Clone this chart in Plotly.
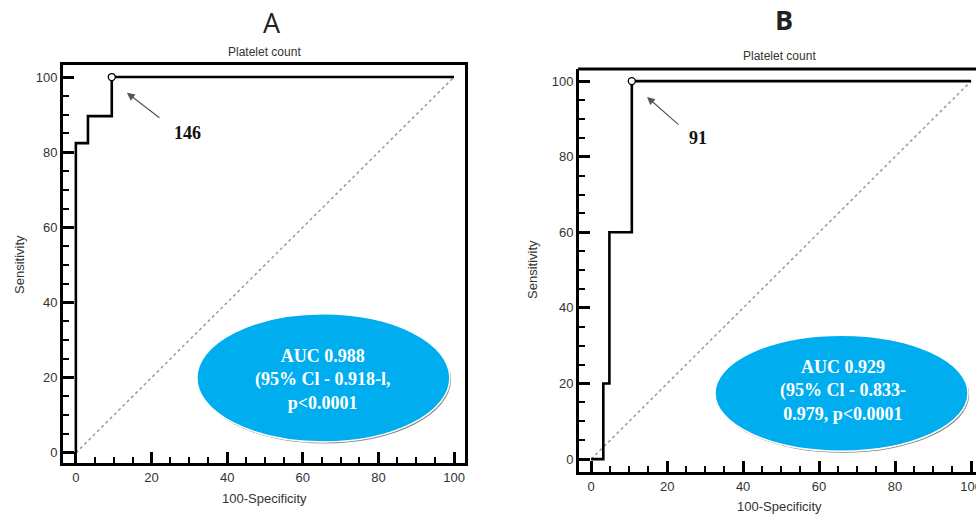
import plotly.graph_objects as go

W, H = 976, 515

# ROC step curves (100-Specificity, Sensitivity)
roc_a_x = [0, 0, 3.2, 3.2, 9.5, 9.5, 100]
roc_a_y = [0, 82.4, 82.4, 89.6, 89.6, 100, 100]
roc_b_x = [0, 3.2, 3.2, 4.8, 4.8, 10.7, 10.7, 100]
roc_b_y = [0, 0, 20, 20, 60, 60, 100, 100]

# optimal cut-off points and their labels
cut_a = (9.5, 100)
cut_b = (10.7, 100)
cut_label_a = "146"
cut_label_b = "91"

auc_text_a = ["AUC 0.988", "(95% Cl - 0.918-l,", "p<0.0001"]
auc_text_b = ["AUC 0.929", "(95% Cl - 0.833-", "0.979, p<0.0001"]

chart_title = "Platelet count"
x_title = "100-Specificity"
y_title = "Sensitivity"
tick_vals = [0, 20, 40, 60, 80, 100]


def px_x(p):
    return p / W


def px_y(p):
    return 1 - p / H


fig = go.Figure()

panels = [
    dict(xa="x", ya="y", xs=roc_a_x, ys=roc_a_y, cut=cut_a, lab=cut_label_a, auc=auc_text_a),
    dict(xa="x2", ya="y2", xs=roc_b_x, ys=roc_b_y, cut=cut_b, lab=cut_label_b, auc=auc_text_b),
]

for p in panels:
    # reference diagonal
    fig.add_trace(go.Scatter(x=[0, 100], y=[0, 100], mode="lines",
                             line=dict(color="#9a9a9a", width=1.5, dash="dot"),
                             xaxis=p["xa"], yaxis=p["ya"], hoverinfo="skip"))
    fig.add_trace(go.Scatter(x=p["xs"], y=p["ys"], mode="lines",
                             line=dict(color="black", width=2.6),
                             xaxis=p["xa"], yaxis=p["ya"]))
    fig.add_trace(go.Scatter(x=[p["cut"][0]], y=[p["cut"][1]], mode="markers",
                             marker=dict(symbol="circle", size=7, color="white",
                                         line=dict(color="black", width=1.3)),
                             xaxis=p["xa"], yaxis=p["ya"]))

axis_common = dict(
    showgrid=False, zeroline=False, showline=True, linecolor="black", linewidth=3,
    ticks="inside", ticklen=11, tickwidth=2.5, tickcolor="black",
    tickvals=tick_vals, tickfont=dict(family="Liberation Sans", size=13, color="#333"),
    ticklabeloverflow="allow", automargin=False,
    minor=dict(dtick=5, ticks="inside", ticklen=6, tickwidth=2, tickcolor="black"),
)

fig.update_layout(
    width=W, height=H, margin=dict(l=0, r=0, t=0, b=0, autoexpand=False),
    plot_bgcolor="white", paper_bgcolor="white", showlegend=False,
    xaxis=dict(axis_common, domain=[px_x(63), px_x(465)], range=[-3.4, 102.9],
               mirror=True, anchor="y"),
    yaxis=dict(axis_common, domain=[px_y(463), px_y(65)], range=[-2.7, 103.2],
               mirror=True, anchor="x"),
    xaxis2=dict(axis_common, domain=[px_x(579), 1.0], range=[-3.2, 101.3],
                mirror=False, anchor="y2"),
    yaxis2=dict(axis_common, domain=[px_y(472), px_y(69)], range=[-3.4, 103.2],
                mirror=False, anchor="x2"),
)

shapes = []
# top frame line for panel B (right side runs off the canvas)
shapes.append(dict(type="line", xref="paper", yref="paper", x0=px_x(578), x1=1.0,
                   y0=px_y(69), y1=px_y(69), line=dict(color="black", width=3)))

# AUC ellipses (shadow + fill)
ell = [
    ("x", "y", 32.0, 98.9, 2.9, 37.0, 3.78, 3.76),
    ("x2", "y2", 32.6, 99.2, 2.1, 32.8, 3.8, 3.78),
]
for xr, yr, x0, x1, y0, y1, sx, sy in ell:
    shapes.append(dict(type="circle", xref=xr, yref=yr, layer="above",
                       x0=x0 + 1.2 / sx, x1=x1 + 1.2 / sx, y0=y0 - 1.6 / sy, y1=y1 - 1.6 / sy,
                       fillcolor="#8a8a8a", line=dict(width=0)))
    shapes.append(dict(type="circle", xref=xr, yref=yr, layer="above",
                       x0=x0, x1=x1, y0=y0, y1=y1,
                       fillcolor="#00aeef", line=dict(color="white", width=1.5)))
fig.update_layout(shapes=shapes)

ann = []
txt = dict(family="Liberation Sans", size=12, color="#333")
ttl = dict(family="Liberation Sans", size=13, color="#333")
mid = dict(xanchor="center", yanchor="middle", xref="paper", yref="paper", showarrow=False)

# panel letters
ann.append(dict(mid, text="A", x=px_x(272), y=px_y(22),
                font=dict(family="Open Sans", size=27, color="#222")))
ann.append(dict(mid, text="<b>B</b>", x=px_x(784), y=px_y(20),
                font=dict(family="Open Sans", size=27, color="#222")))

for cx, cy_title, cy_x, yx, yy in [(264, 52, 498, 19, 265), (779, 56, 506, 532, 270)]:
    ann.append(dict(mid, text=chart_title, x=px_x(cx), y=px_y(cy_title), font=txt))
    ann.append(dict(mid, text=x_title, x=px_x(cx), y=px_y(cy_x), font=ttl))
    ann.append(dict(mid, text=y_title, x=px_x(yx), y=px_y(yy), textangle=-90, font=ttl))

# cut-off arrows and labels
for p, (dx, dy), (lx, ly) in [
    (panels[0], (34, 26), (29.4, 85.1)),
    (panels[1], (33, 29), (28.2, 84.9)),
]:
    hx = p["cut"][0] + 4.0
    hy = p["cut"][1] - 4.2
    ann.append(dict(x=hx, y=hy, xref=p["xa"], yref=p["ya"], ax=dx, ay=dy, text="",
                    showarrow=True, arrowhead=2, arrowsize=1.3, arrowwidth=1.2,
                    arrowcolor="#555"))
    ann.append(dict(x=lx, y=ly, xref=p["xa"], yref=p["ya"], text="<b>%s</b>" % p["lab"],
                    showarrow=False, xanchor="center", yanchor="middle",
                    font=dict(family="Liberation Serif", size=18, color="#111")))

# AUC text inside ellipses
for p, x, y in [(panels[0], 65.3, 19.4), (panels[1], 66.3, 18.1)]:
    ann.append(dict(x=x, y=y, xref=p["xa"], yref=p["ya"], showarrow=False,
                    xanchor="center", yanchor="middle",
                    text="<br>".join("<b>%s</b>" % s for s in p["auc"]),
                    font=dict(family="Liberation Serif", size=18, color="white")))

fig.update_layout(annotations=ann)
fig.write_html("out.html")
